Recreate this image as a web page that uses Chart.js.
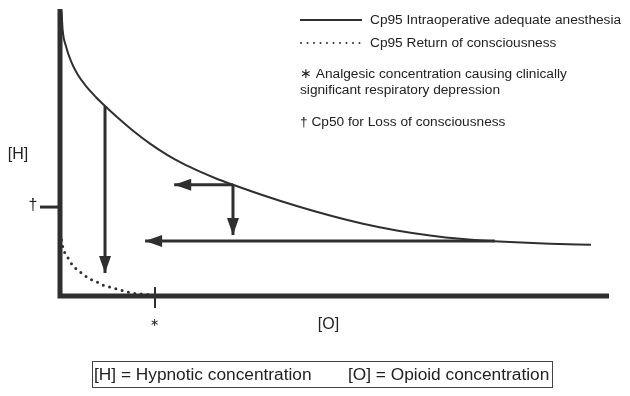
<!DOCTYPE html>
<html>
<head>
<meta charset="utf-8">
<script src="https://cdn.jsdelivr.net/npm/chart.js@4"></script>
<style>
  html, body { margin: 0; padding: 0; background: #fff; }
  #wrap { width: 630px; height: 396px; }
</style>
</head>
<body>
<div id="wrap"><canvas id="chart" width="630" height="396"></canvas></div>
<script>
// [O] on x, [H] on y, both 0-100 (relative units)
const adequateX = [0.27, 0.49, 1.09, 2.0, 3.22, 4.74, 6.56, 8.2, 10.33, 13.3, 16.39, 19.44, 22.4, 25.5, 28.54, 31.51, 36.98, 43.12, 49.18, 55.19, 61.33, 67.4, 73.41, 78.32, 81.97, 89.25, 96.72];
const adequateY = [99.65, 92.87, 87.34, 82.1, 77.41, 73.36, 69.51, 66.43, 62.66, 57.8, 53.29, 49.44, 46.26, 43.46, 41.01, 38.92, 35.24, 31.47, 28.15, 25.28, 22.94, 21.19, 19.93, 19.23, 18.85, 18.29, 17.9];

const returnX = [0.27, 0.55, 1.6, 2.4, 3.5, 4.4, 5.5, 6.7, 7.8, 9.1, 10.4, 11.7, 13.1, 14.6, 16.9];
const returnY = [19.6, 16.8, 12.9, 10.5, 8.7, 7.3, 5.9, 4.9, 3.8, 3.1, 2.4, 1.7, 1.0, 0.7, 0.35];

// arrows: [fromX, fromY, toX, toY]
const arrows = [
  [8.2, 66.43, 8.2, 8.0],
  [31.51, 38.92, 20.8, 38.92],
  [31.51, 38.92, 31.51, 21.3],
  [79.2, 19.2, 15.5, 19.2]
];

const cp50Loss = 31.1;       // † mark on [H]
const respDepression = 17.3; // * mark on [O]

const legendLabels = ['Cp95 Intraoperative adequate anesthesia', 'Cp95 Return of consciousness'];
const notes = ['\u2217 Analgesic concentration causing clinically', 'significant respiratory depression', '\u2020 Cp50 for Loss of consciousness'];
const footer = ['[H] = Hypnotic concentration', '[O] = Opioid concentration'];

const INK = '#2f2f2f';
const FONT = '"Liberation Sans", Arial, sans-serif';

const toPoints = (xs, ys) => xs.map((x, i) => ({ x: x, y: ys[i] }));

const datasets = [
  {
    label: legendLabels[0],
    data: toPoints(adequateX, adequateY),
    borderColor: INK,
    borderWidth: 2,
    cubicInterpolationMode: 'monotone',
    pointRadius: 0
  },
  {
    label: legendLabels[1],
    data: toPoints(returnX, returnY),
    borderColor: INK,
    borderWidth: 3,
    borderDash: [0, 6.5],
    borderCapStyle: 'round',
    cubicInterpolationMode: 'monotone',
    pointRadius: 0
  }
];
arrows.forEach((a) => {
  datasets.push({
    label: 'arrow',
    data: [{ x: a[0], y: a[1] }, { x: a[2], y: a[3] }],
    borderColor: INK,
    borderWidth: 3,
    pointRadius: 0
  });
});

const annotate = {
  id: 'annotate',
  beforeDatasetsDraw(chart) {
    const { ctx, chartArea: ca } = chart;
    ctx.save();
    ctx.strokeStyle = INK;
    ctx.lineWidth = 5;
    ctx.beginPath();
    ctx.moveTo(ca.left, ca.top - 1);
    ctx.lineTo(ca.left, ca.bottom);
    ctx.lineTo(ca.right, ca.bottom);
    ctx.stroke();
    ctx.restore();
  },
  afterDatasetsDraw(chart) {
    const { ctx, chartArea: ca, scales } = chart;
    const xs = scales.x, ys = scales.y;
    ctx.save();
    ctx.fillStyle = INK;
    ctx.strokeStyle = INK;

    // arrow heads
    arrows.forEach((a) => {
      const x1 = xs.getPixelForValue(a[0]), y1 = ys.getPixelForValue(a[1]);
      const x2 = xs.getPixelForValue(a[2]), y2 = ys.getPixelForValue(a[3]);
      const ang = Math.atan2(y2 - y1, x2 - x1);
      const len = 17, half = 6;
      ctx.beginPath();
      ctx.moveTo(x2, y2);
      ctx.lineTo(x2 - len * Math.cos(ang) - half * Math.sin(ang), y2 - len * Math.sin(ang) + half * Math.cos(ang));
      ctx.lineTo(x2 - len * Math.cos(ang) + half * Math.sin(ang), y2 - len * Math.sin(ang) - half * Math.cos(ang));
      ctx.closePath();
      ctx.fill();
    });

    // † tick on [H] axis
    const yd = ys.getPixelForValue(cp50Loss);
    ctx.lineWidth = 3;
    ctx.beginPath();
    ctx.moveTo(ca.left - 20, yd);
    ctx.lineTo(ca.left, yd);
    ctx.stroke();

    // * tick on [O] axis
    const xa = xs.getPixelForValue(respDepression);
    ctx.lineWidth = 2;
    ctx.beginPath();
    ctx.moveTo(xa, ca.bottom - 9);
    ctx.lineTo(xa, ca.bottom + 12);
    ctx.stroke();

    ctx.textBaseline = 'middle';
    ctx.textAlign = 'center';
    ctx.fillStyle = '#222';
    ctx.font = '16px ' + FONT;
    ctx.fillText('\u2020', ca.left - 27, yd - 1);
    ctx.font = '11px ' + FONT;
    ctx.fillText('\u2217', xa, ca.bottom + 27);
    ctx.font = '16px ' + FONT;
    ctx.fillText('[H]', 18, (ca.top + ca.bottom) / 2 + 2);
    ctx.fillText('[O]', (ca.left + ca.right) / 2 - 6, ca.bottom + 29);

    // legend
    ctx.lineWidth = 2;
    ctx.beginPath();
    ctx.moveTo(300, 20);
    ctx.lineTo(362, 20);
    ctx.stroke();
    ctx.setLineDash([0, 6.5]);
    ctx.lineCap = 'round';
    ctx.beginPath();
    ctx.moveTo(301, 43);
    ctx.lineTo(362, 43);
    ctx.stroke();
    ctx.setLineDash([]);
    ctx.lineCap = 'butt';

    ctx.textAlign = 'left';
    ctx.font = '13.7px ' + FONT;
    ctx.fillText(legendLabels[0], 370, 20);
    ctx.fillText(legendLabels[1], 370, 43);
    ctx.fillText(notes[0], 300, 74);
    ctx.fillText(notes[1], 300, 90);
    ctx.fillText(notes[2], 300, 122);

    // footer box
    ctx.lineWidth = 1;
    ctx.strokeStyle = '#444';
    ctx.strokeRect(92.5, 361.5, 460, 26);
    ctx.font = '17.3px ' + FONT;
    ctx.fillText(footer[0], 94, 375);
    ctx.fillText(footer[1], 348, 375);
    ctx.restore();
  }
};

new Chart(document.getElementById('chart').getContext('2d'), {
  type: 'line',
  data: { datasets: datasets },
  options: {
    responsive: false,
    animation: false,
    layout: { padding: { left: 60, top: 10, right: 21, bottom: 100 } },
    scales: {
      x: { type: 'linear', min: 0, max: 100, display: false },
      y: { type: 'linear', min: 0, max: 100, display: false }
    },
    plugins: {
      legend: { display: false },
      tooltip: { enabled: false }
    }
  },
  plugins: [annotate]
});
</script>
</body>
</html>
